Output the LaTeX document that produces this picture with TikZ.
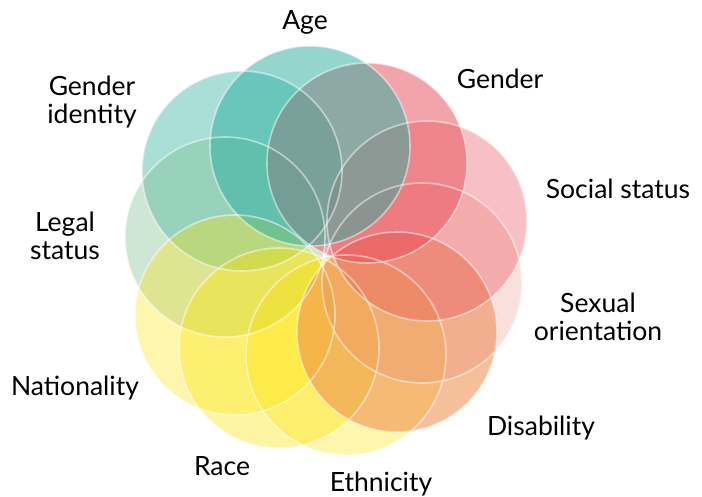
\documentclass[tikz,border=0pt]{standalone}
\usepackage{fontspec}
\setmainfont{Lato}
\begin{document}
\begin{tikzpicture}[x=1pt,y=-1pt,
  blob/.style={circle,minimum size=200pt,inner sep=0pt},
  rim/.style={circle,minimum size=200pt,inner sep=0pt,draw=white,draw opacity=0.5,line width=1.6pt},
  lab/.style={font=\fontsize{26.5}{27.5}\selectfont,align=center,text=black,inner sep=0pt}]
\useasboundingbox (0,0) rectangle (702,497);
\definecolor{teal}{HTML}{2AAE9E}
\definecolor{rosy}{HTML}{E84A55}
\definecolor{peach}{HTML}{E8836E}
\definecolor{orng}{HTML}{EE8A4A}
\definecolor{yell}{HTML}{FCE300}
\definecolor{sage}{HTML}{7FBF8F}
% fills
\node[blob,fill=teal,fill opacity=0.40] (gid) at (242,171) {};
\node[blob,fill=sage,fill opacity=0.38] (leg) at (225,237) {};
\node[blob,fill=yell,fill opacity=0.32] (nat) at (235,315) {};
\node[blob,fill=yell,fill opacity=0.36] (rac) at (279,348) {};
\node[blob,fill=yell,fill opacity=0.33] (eth) at (346,355) {};
\node[blob,fill=orng,fill opacity=0.55] (dis) at (397,332) {};
\node[blob,fill=peach,fill opacity=0.25] (sex) at (422,283) {};
\node[blob,fill=rosy,fill opacity=0.35] (soc) at (427,221) {};
\node[blob,fill=rosy,fill opacity=0.50] (gen) at (367,163) {};
\node[blob,fill=teal,fill opacity=0.50] (age) at (310,146) {};
% rims
\foreach \c in {gid,leg,nat,rac,eth,dis,sex,soc,gen,age}
  \node[rim] at (\c.center) {};
% labels
\node[lab] (tage) at (305,22) {Age};
\node[lab] (tgen) at (500,79) {Gender};
\node[lab] (tgid) at (92,102) {Gender\\identity};
\node[lab] (tsoc) at (618,189) {Social status};
\node[lab] (tsex) at (598,317) {Sexual\\orientation};
\node[lab] (tleg) at (65,236) {Legal\\status};
\node[lab] (tnat) at (75,388) {Nationality};
\node[lab] (tdis) at (541,428) {Disability};
\node[lab] (trac) at (222,466) {Race};
\node[lab] (teth) at (381,484) {Ethnicity};
\end{tikzpicture}
\end{document}
